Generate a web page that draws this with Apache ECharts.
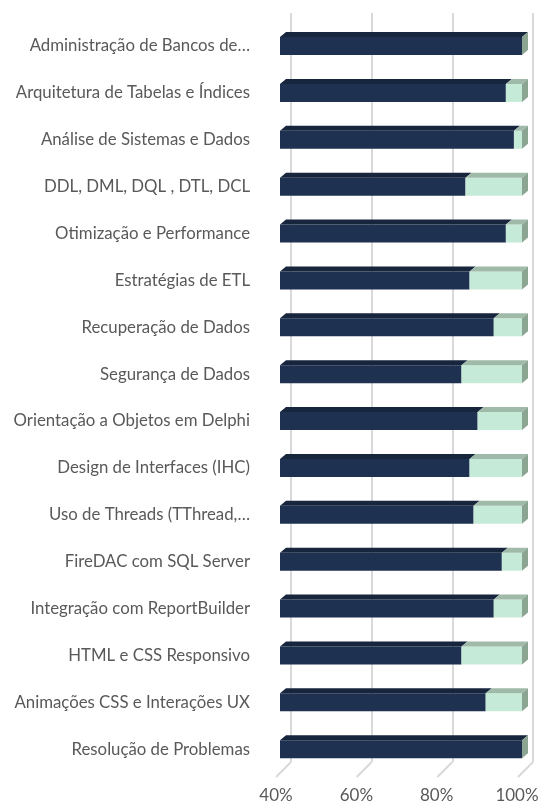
<!DOCTYPE html>
<html>
<head>
<meta charset="utf-8">
<script src="https://cdn.jsdelivr.net/npm/echarts@6/dist/echarts.min.js"></script>
<style>
  html, body { margin: 0; padding: 0; background: #fff; }
  #chart { width: 544px; height: 811px; }
</style>
</head>
<body>
<div id="chart"></div>
<script>
const categories = [
  "Administração de Bancos de…",
  "Arquitetura de Tabelas e Índices",
  "Análise de Sistemas e Dados",
  "DDL, DML, DQL , DTL, DCL",
  "Otimização e Performance",
  "Estratégias de ETL",
  "Recuperação de Dados",
  "Segurança de Dados",
  "Orientação a Objetos em Delphi",
  "Design de Interfaces (IHC)",
  "Uso de Threads (TThread,…",
  "FireDAC com SQL Server",
  "Integração com ReportBuilder",
  "HTML e CSS Responsivo",
  "Animações CSS e Interações UX",
  "Resolução de Problemas"
];
const dominio = [100, 96, 98, 86, 96, 87, 93, 85, 89, 87, 88, 95, 93, 85, 91, 100];
const restante = [0, 4, 2, 14, 4, 13, 7, 15, 11, 13, 12, 5, 7, 15, 9, 0];
const tickValues = [40, 60, 80, 100];

const DX = 6, DY = 5;

// barra 3D: frente + topo (+ lateral na ultima parte)
function bar3d(front, top, side) {
  return function (params, api) {
    const cat = api.value(2);
    const p0 = api.coord([api.value(0), cat]);
    const p1 = api.coord([api.value(1), cat]);
    const h = api.size([0, 1])[1] * 0.384;
    const x0 = Math.max(p0[0], params.coordSys.x);
    const x1 = p1[0];
    const yT = p0[1] - h / 2, yB = p0[1] + h / 2;
    const children = [
      { type: "rect", shape: { x: x0, y: yT, width: Math.max(0, x1 - x0), height: h }, style: { fill: front } },
      { type: "polygon", shape: { points: [[x0, yT], [x1, yT], [x1 + DX, yT - DY], [x0 + DX, yT - DY]] }, style: { fill: top } }
    ];
    if (side) {
      children.push({ type: "polygon", shape: { points: [[x1, yT], [x1 + DX, yT - DY], [x1 + DX, yB - DY], [x1, yB]] }, style: { fill: side } });
    }
    return { type: "group", children: children };
  };
}

const navyData = dominio.map((v, i) => [0, v, i]);
const greenData = dominio.map((v, i) => [v, v + restante[i], i]);

const chart = echarts.init(document.getElementById("chart"));
chart.setOption({
  animation: false,
  textStyle: { fontFamily: "Lato" },
  grid: [
    { left: 291, width: 242, top: 13, height: 749 },   // parede do fundo
    { left: 280, width: 242, top: 22.6, height: 750 }, // barras
    { left: 276, width: 241, top: 776, height: 1 }     // frente do piso
  ],
  xAxis: [
    {
      gridIndex: 0, type: "value", min: 40, max: 100, interval: 20,
      axisLabel: { show: false }, axisLine: { show: false }, axisTick: { show: false },
      splitLine: { show: true, lineStyle: { color: "#d9d9d9", width: 2 } }
    },
    {
      gridIndex: 1, type: "value", min: 40, max: 100, interval: 20, show: false
    },
    {
      gridIndex: 2, type: "value", min: 40, max: 100, interval: 20,
      axisLine: { show: false }, axisTick: { show: false }, splitLine: { show: false },
      axisLabel: {
        margin: 10, fontSize: 17, color: "#595959",
        formatter: v => (tickValues.indexOf(v) >= 0 ? v + "%" : "")
      }
    }
  ],
  yAxis: [
    { gridIndex: 0, type: "value", min: 0, max: 1, show: false },
    {
      gridIndex: 1, type: "category", data: categories, inverse: true,
      axisLine: { show: false }, axisTick: { show: false },
      axisLabel: { margin: 30, fontSize: 16.8, color: "#595959" }
    },
    { gridIndex: 2, type: "value", show: false }
  ],
  series: [
    {
      // linhas do piso
      type: "custom", xAxisIndex: 0, yAxisIndex: 0, silent: true,
      data: tickValues.map(v => [v, 0]),
      renderItem: function (params, api) {
        const p = api.coord([api.value(0), 0]);
        return {
          type: "line",
          shape: { x1: p[0], y1: p[1], x2: p[0] - 15, y2: p[1] + 15 },
          style: { stroke: "#d9d9d9", lineWidth: 2 }
        };
      }
    },
    {
      name: "Domínio", type: "custom", xAxisIndex: 1, yAxisIndex: 1,
      encode: { x: [0, 1], y: 2 }, data: navyData, z: 3,
      renderItem: bar3d("#1f3150", "#17253d", null)
    },
    {
      name: "Restante", type: "custom", xAxisIndex: 1, yAxisIndex: 1,
      encode: { x: [0, 1], y: 2 }, data: greenData, z: 4,
      renderItem: bar3d("#c6ead8", "#9fbaa8", "#8ba592")
    }
  ]
});
</script>
</body>
</html>
